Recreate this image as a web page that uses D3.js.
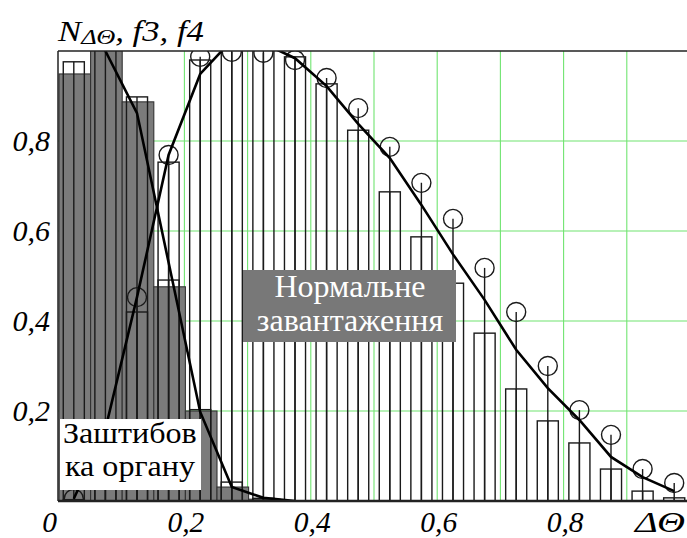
<!DOCTYPE html>
<html>
<head>
<meta charset="utf-8">
<script src="https://cdn.jsdelivr.net/npm/d3@7"></script>
<style>
  html, body { margin: 0; padding: 0; background: #fff; }
  svg { display: block; }
  text { font-family: "Liberation Serif", "Times New Roman", serif; }
</style>
</head>
<body>
<svg id="chart" width="687" height="538"></svg>
<script>
// Bin centres of the ΔΘ histogram (bin width 0.05)
const binCenters = [0.025, 0.075, 0.125, 0.175, 0.225, 0.275, 0.325, 0.375, 0.425, 0.475,
                    0.525, 0.575, 0.625, 0.675, 0.725, 0.775, 0.825, 0.875, 0.925, 0.975];

// Normal load: relative frequencies N_ΔΘ (narrow bars)
const normalBars = [0.003, 0.12, 0.42, 0.753, 0.98, 1.01, 1.01, 0.987, 0.927, 0.824,
                    0.687, 0.587, 0.484, 0.373, 0.249, 0.178, 0.129, 0.071, 0.022, 0.007];
// Normal load: point values shown as circles on stems
const normalPoints = [0.005, 0.16, 0.453, 0.769, 0.987, 0.998, 0.996, 0.98, 0.94, 0.873,
                      0.787, 0.707, 0.627, 0.518, 0.42, 0.30, 0.202, 0.147, 0.071, 0.04];
// Normal load: fitted curve f3
const f3 = [0.005, 0.16, 0.453, 0.769, 0.949, 1.024, 1.017, 0.984, 0.922, 0.838,
            0.762, 0.658, 0.548, 0.447, 0.336, 0.251, 0.18, 0.098, 0.053, 0.022];

// Clogged organ: histogram (wide grey bars) and frequencies (narrow bars)
const stuckCenters = [0.025, 0.075, 0.125, 0.175, 0.225, 0.275, 0.325];
const stuckBars    = [0.949, 1.05, 0.887, 0.476, 0.200, 0.031, 0.004];
const stuckFreq    = [0.976, 1.05, 0.898, 0.491, 0.203, 0.042, 0.006];
// Clogged organ: fitted curve f4
const f4Centers = [0.025, 0.075, 0.125, 0.175, 0.225, 0.275, 0.325, 0.375];
const f4 = [1.08, 1.0, 0.862, 0.53, 0.198, 0.031, 0.007, 0.0];

const xTicks = [0, 0.2, 0.4, 0.6, 0.8];
const yTicks = [0.2, 0.4, 0.6, 0.8];
const xGrid = [0.2, 0.3, 0.4, 0.5, 0.6, 0.7, 0.8, 0.9];
const yGrid = [0.2, 0.4, 0.6, 0.8];

const svg = d3.select("#chart");
const pL = 58, pT = 51, pB = 501, pR = 687;
const x = d3.scaleLinear().domain([0, 1]).range([pL, 690]);
const y = d3.scaleLinear().domain([0, 1]).range([pB, pT]);
const step = 0.05;

svg.append("defs").append("clipPath").attr("id", "plot")
  .append("rect").attr("x", pL).attr("y", pT)
  .attr("width", pR - pL).attr("height", pB - pT);

const plot = svg.append("g").attr("clip-path", "url(#plot)");

// grid
plot.selectAll(".gx").data(xGrid).join("line")
  .attr("x1", d => x(d)).attr("x2", d => x(d))
  .attr("y1", pT).attr("y2", pB)
  .attr("stroke", "#70e470").attr("stroke-width", 1.1);
plot.selectAll(".gy").data(yGrid).join("line")
  .attr("x1", pL).attr("x2", pR)
  .attr("y1", d => y(d)).attr("y2", d => y(d))
  .attr("stroke", "#70e470").attr("stroke-width", 1.1);

// clogged organ: wide grey bars
plot.selectAll(".sb").data(stuckCenters).join("rect")
  .attr("x", d => x(d - step / 2) + 1)
  .attr("width", x(step) - x(0))
  .attr("y", (d, i) => y(stuckBars[i]))
  .attr("height", (d, i) => y(0) - y(stuckBars[i]))
  .attr("fill", "#7b7b7b").attr("stroke", "#333").attr("stroke-width", 1.1);

const nw = (x(step) - x(0)) * 2 / 3;

// narrow outlined bars, both series
function narrow(cls, centers, vals) {
  plot.selectAll("." + cls).data(centers).join("rect")
    .attr("x", d => x(d) - nw / 2)
    .attr("width", nw)
    .attr("y", (d, i) => y(vals[i]))
    .attr("height", (d, i) => y(0) - y(vals[i]))
    .attr("fill", "none").attr("stroke", "#1a1a1a").attr("stroke-width", 1.4);
  plot.selectAll("." + cls + "c").data(centers).join("line")
    .attr("x1", d => x(d)).attr("x2", d => x(d))
    .attr("y1", y(0)).attr("y2", (d, i) => y(vals[i]))
    .attr("stroke", "#1a1a1a").attr("stroke-width", 1.4);
}
narrow("nb", binCenters, normalBars);
narrow("sf", stuckCenters, stuckFreq);

// stems and circles
plot.selectAll(".stem").data(binCenters).join("line")
  .attr("x1", d => x(d)).attr("x2", d => x(d))
  .attr("y1", y(0)).attr("y2", (d, i) => y(normalPoints[i]))
  .attr("stroke", "#1a1a1a").attr("stroke-width", 1.4);
plot.selectAll(".pt").data(binCenters).join("circle")
  .attr("cx", d => x(d)).attr("cy", (d, i) => y(normalPoints[i]))
  .attr("r", 9.5)
  .attr("fill", "none").attr("stroke", "#1a1a1a").attr("stroke-width", 1.4);

// fitted curves
const line = d3.line().x(d => x(d[0])).y(d => y(d[1]));
plot.append("path").datum(binCenters.map((c, i) => [c, f3[i]]))
  .attr("d", line).attr("fill", "none").attr("stroke", "#000").attr("stroke-width", 2.6);
plot.append("path").datum(f4Centers.map((c, i) => [c, f4[i]]))
  .attr("d", line).attr("fill", "none").attr("stroke", "#000").attr("stroke-width", 2.6);

// frame
svg.append("line").attr("x1", pL).attr("x2", pR).attr("y1", pT).attr("y2", pT)
  .attr("stroke", "#222").attr("stroke-width", 1.3);
svg.append("line").attr("x1", pL).attr("x2", pL).attr("y1", pT).attr("y2", pB)
  .attr("stroke", "#222").attr("stroke-width", 1.5);
svg.append("line").attr("x1", pL).attr("x2", pR).attr("y1", pB).attr("y2", pB)
  .attr("stroke", "#222").attr("stroke-width", 2.4);

// axes
const fmt = d => String(d).replace(".", ",");
const xAxis = svg.append("g").attr("transform", `translate(0,${pB})`)
  .call(d3.axisBottom(x).tickValues(xTicks).tickSize(0).tickPadding(0).tickFormat(fmt));
xAxis.select(".domain").remove();
xAxis.selectAll("text")
  .attr("y", 31).attr("dy", 0)
  .attr("dx", d => d === 0 ? -9 : 1)
  .style("font-style", "italic").style("font-size", "29.5px").attr("fill", "#000");

const yAxis = svg.append("g").attr("transform", `translate(${pL},0)`)
  .call(d3.axisLeft(y).tickValues(yTicks).tickSize(0).tickPadding(8).tickFormat(fmt));
yAxis.select(".domain").remove();
yAxis.selectAll("text")
  .attr("dy", "0.33em")
  .style("font-style", "italic").style("font-size", "30px").attr("fill", "#000");

// axis titles
const title = svg.append("text").attr("x", 58).attr("y", 41)
  .attr("textLength", 146).attr("lengthAdjust", "spacingAndGlyphs")
  .style("font-style", "italic").style("font-size", "29px").attr("fill", "#000");
title.append("tspan").text("N");
title.append("tspan").style("font-size", "22px").attr("dy", 3).text("ΔΘ");
title.append("tspan").attr("dy", -3).text(", f3, f4");

svg.append("text").attr("x", 635).attr("y", 532)
  .attr("textLength", 50).attr("lengthAdjust", "spacingAndGlyphs")
  .style("font-style", "italic").style("font-size", "30px").attr("fill", "#000").text("ΔΘ");

// series labels
svg.append("rect").attr("x", 243).attr("y", 270).attr("width", 213).attr("height", 72)
  .attr("fill", "#787878");
svg.append("text").attr("x", 350).attr("y", 297).attr("text-anchor", "middle")
  .style("font-size", "32px").attr("fill", "#fff").text("Нормальне");
svg.append("text").attr("x", 350).attr("y", 331).attr("text-anchor", "middle")
  .style("font-size", "32px").attr("fill", "#fff").text("завантаження");

svg.append("rect").attr("x", 60).attr("y", 419).attr("width", 141).attr("height", 71)
  .attr("fill", "#fff");
svg.append("text").attr("transform", "translate(63,443) scale(1.07,1)")
  .style("font-size", "30px").attr("fill", "#000").text("Заштибов");
svg.append("text").attr("transform", "translate(65,476) scale(1.07,1)")
  .style("font-size", "30px").attr("fill", "#000").text("ка органу");
</script>
</body>
</html>
